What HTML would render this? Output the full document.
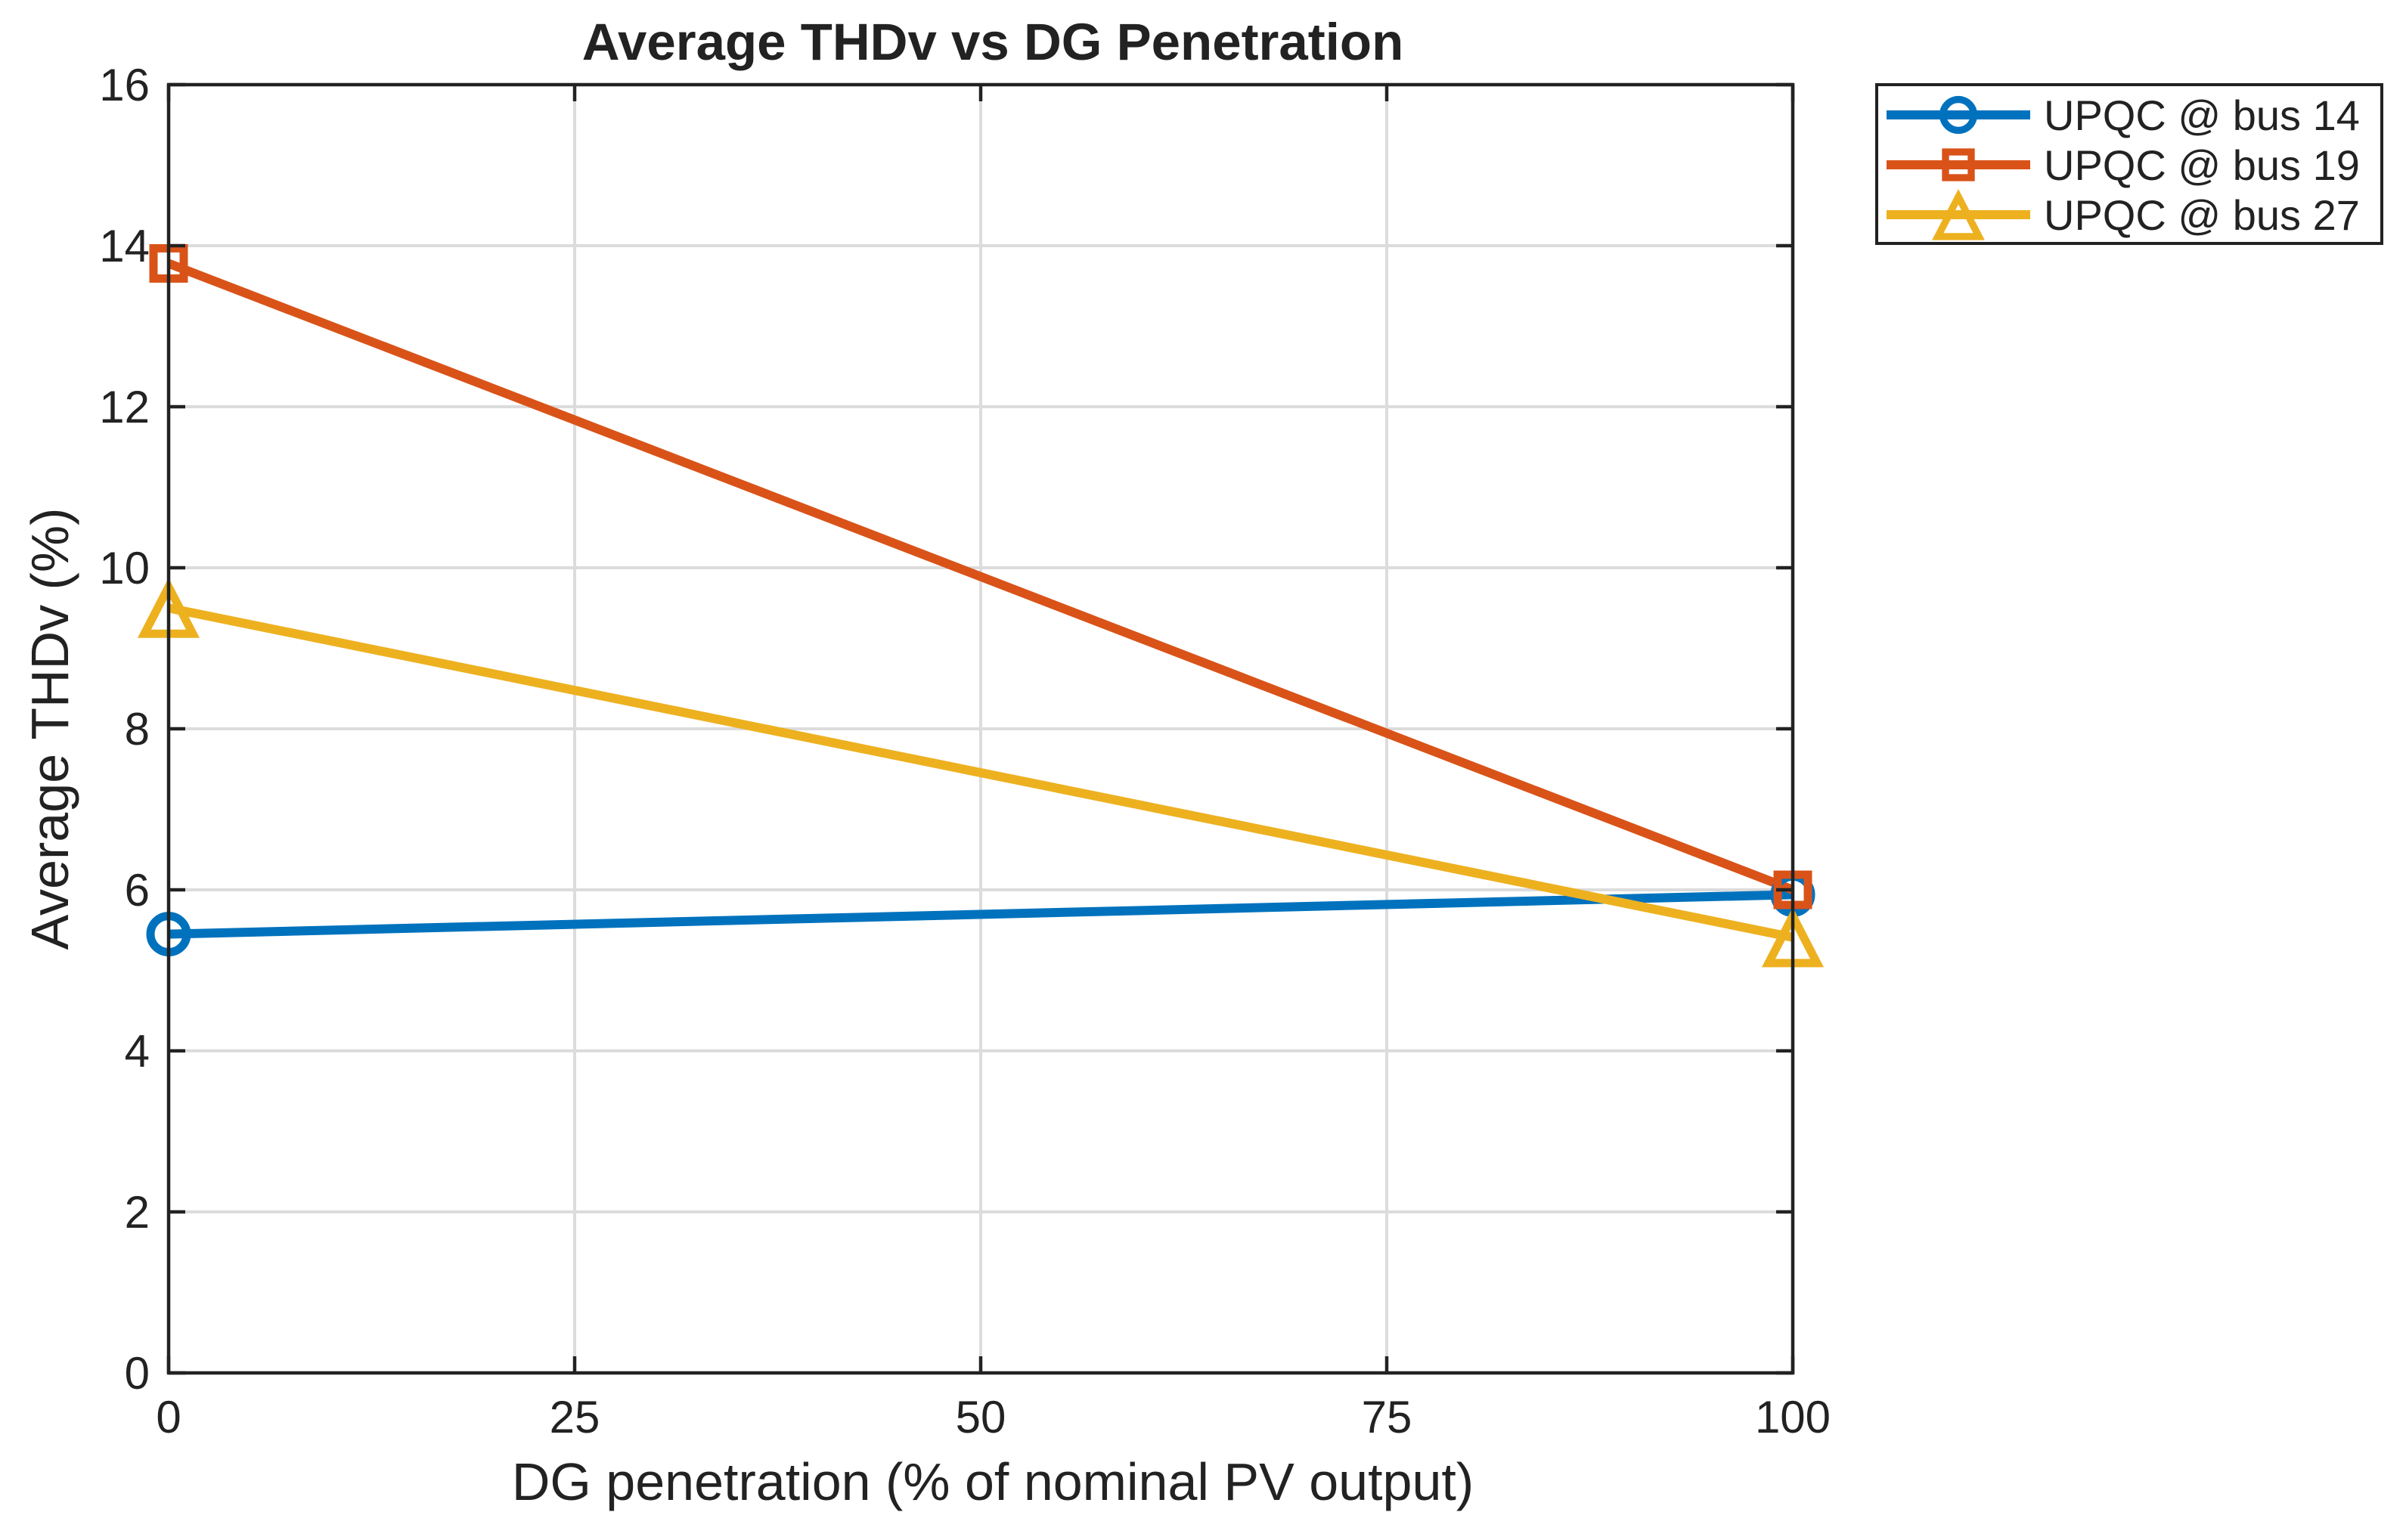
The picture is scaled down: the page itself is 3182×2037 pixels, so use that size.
<!DOCTYPE html>
<html><head><meta charset="utf-8"><style>
html,body{margin:0;padding:0;background:#fff;}
svg{display:block;font-family:"Liberation Sans",Arial,sans-serif;}
</style></head><body>
<svg id="chart" width="3182" height="2037" viewBox="0 0 3182 2037">
<rect width="3182" height="2037" fill="#fff"/>
<g id="grid"></g>
<g id="series"></g>
<rect x="223" y="112" width="2148" height="1704" fill="none" stroke="#222" stroke-width="4.5"/>
<g id="ticks"></g>
<text x="1313" y="79" text-anchor="middle" font-size="69" font-weight="bold" fill="#222">Average THDv vs DG Penetration</text>
<text x="1313" y="1984" text-anchor="middle" font-size="70" fill="#222">DG penetration (% of nominal PV output)</text>
<text transform="translate(90,964) rotate(-90)" text-anchor="middle" font-size="70" fill="#222">Average THDv (%)</text>
<g id="legend">
<rect x="2482" y="112" width="668" height="210" fill="#fff" stroke="#222" stroke-width="4"/>
</g>
</svg>
<script>
const xCategories = [0, 100];
const seriesNames = ["UPQC @ bus 14", "UPQC @ bus 19", "UPQC @ bus 27"];
const bus14 = [5.45, 5.94];
const bus19 = [13.78, 6.0];
const bus27 = [9.5, 5.41];
const xTicks = [0, 25, 50, 75, 100];
const yTicks = [0, 2, 4, 6, 8, 10, 12, 14, 16];

const L=223,R=2371,T=112,B=1816;
const xs=v=>L+(v-0)/(100-0)*(R-L);
const ys=v=>B-(v-0)/(16-0)*(B-T);
const NS='http://www.w3.org/2000/svg';
function mk(tag,attrs,parent){const e=document.createElementNS(NS,tag);for(const k in attrs)e.setAttribute(k,attrs[k]);parent.appendChild(e);return e;}
const grid=document.getElementById('grid'),ticks=document.getElementById('ticks'),ser=document.getElementById('series'),leg=document.getElementById('legend');

xTicks.forEach(t=>{
  const x=xs(t);
  if(t>0&&t<100){const g=mk('line',{x1:x,x2:x,y1:T,y2:B,stroke:'#dcdcdc','stroke-width':4},grid);
  
  }
  const a=mk('line',{x1:x,x2:x,y1:B,y2:B-22,stroke:'#222','stroke-width':4.5},ticks);
  
  
  const b=mk('line',{x1:x,x2:x,y1:T,y2:T+22,stroke:'#222','stroke-width':4.5},ticks);
  
  
  const tx=mk('text',{x:x,y:1895,'text-anchor':'middle','font-size':60,fill:'#222'},ticks);
  tx.textContent=t;
  
  
});
yTicks.forEach(t=>{
  const y=ys(t);
  if(t>0&&t<16){const g=mk('line',{x1:L,x2:R,y1:y,y2:y,stroke:'#dcdcdc','stroke-width':4},grid);
  
  }
  const a=mk('line',{x1:L,x2:L+22,y1:y,y2:y,stroke:'#222','stroke-width':4.5},ticks);
  
  
  const b=mk('line',{x1:R,x2:R-22,y1:y,y2:y,stroke:'#222','stroke-width':4.5},ticks);
  
  
  const tx=mk('text',{x:198,y:y+21,'text-anchor':'end','font-size':60,fill:'#222'},ticks);
  tx.textContent=t;
  
  
});

const colors=['#0072BD','#D95319','#EDB120'];
const markers=['circle','square','triangle'];
function marker(type,cx,cy,color,parent,scale){
  scale=scale||1;let e;
  if(type==='circle') e=mk('circle',{cx:cx,cy:cy,r:24*scale,fill:'none',stroke:color,'stroke-width':11*scale},parent);
  else if(type==='square'){const s=20*scale;e=mk('rect',{x:cx-s,y:cy-s,width:2*s,height:2*s,fill:'none',stroke:color,'stroke-width':11*scale},parent);}
  else {const w=32*scale,h=28*scale;e=mk('polygon',{points:`${cx},${cy-h} ${cx+w},${cy+h+6*scale} ${cx-w},${cy+h+6*scale}`,fill:'none',stroke:color,'stroke-width':11*scale,'stroke-linejoin':'miter'},parent);}
  return e;
}
[bus14,bus19,bus27].forEach((vals,i)=>{
  const pts=vals.map((v,j)=>xs(xCategories[j])+','+ys(v)).join(' ');
  const pl=mk('polyline',{points:pts,fill:'none',stroke:colors[i],'stroke-width':12},ser);
  
  
});
[bus14,bus19,bus27].forEach((vals,i)=>{
  vals.forEach((v,j)=>{
    const m=marker(markers[i],xs(xCategories[j]),ys(v),colors[i],ser,1);
    
    
  });
});
seriesNames.forEach((n,i)=>{
  const y=152+i*66;
  const l=mk('line',{x1:2495,x2:2685,y1:y,y2:y,stroke:colors[i],'stroke-width':12},leg);
  
  
  const m=marker(markers[i],2590,y,colors[i],leg,0.85);
  
  
  const t=mk('text',{x:2703,y:y+20,'font-size':56,fill:'#222'},leg);
  t.textContent=n;
  
  
});
</script>
</body></html>
